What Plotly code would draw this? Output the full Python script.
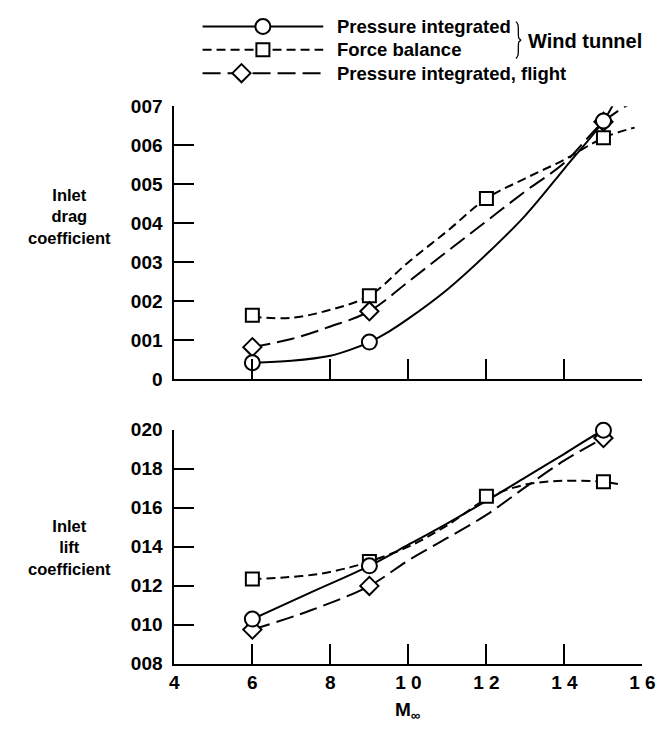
import plotly.graph_objects as go

W, H = 672, 734

# Free-stream Mach number of the test points
mach = [0.6, 0.9, 1.5]
mach_fb = [0.6, 0.9, 1.2, 1.5]

# Inlet drag coefficient at the test points
cd_press_wt = [0.00042, 0.00095, 0.00662]
cd_force_wt = [0.00164, 0.00214, 0.00463, 0.00619]
cd_press_fl = [0.00082, 0.00174, 0.00660]

# Inlet lift coefficient at the test points
cl_press_wt = [0.01029, 0.01302, 0.01997]
cl_force_wt = [0.01234, 0.01324, 0.01658, 0.01733]
cl_press_fl = [0.00975, 0.01199, 0.01957]

# Faired curves through the test points (drag)
fair_cd_press_wt_m = [0.6, 0.7, 0.8, 0.85, 0.9, 0.95, 1.0, 1.1, 1.2, 1.3, 1.4, 1.5, 1.53]
fair_cd_press_wt = [0.00042, 0.00047, 0.00060, 0.00075, 0.00095, 0.00122, 0.00155, 0.0023,
                    0.0032, 0.0042, 0.0054, 0.00662, 0.00714]
fair_cd_force_wt_m = [0.6, 0.7, 0.8, 0.9, 1.0, 1.1, 1.2, 1.3, 1.4, 1.5, 1.58]
fair_cd_force_wt = [0.00160, 0.00157, 0.00178, 0.00214, 0.0030, 0.0038, 0.00463,
                    0.00515, 0.00563, 0.00619, 0.00645]
fair_cd_press_fl_m = [0.6, 0.7, 0.8, 0.9, 1.0, 1.1, 1.2, 1.3, 1.4, 1.5, 1.58]
fair_cd_press_fl = [0.00082, 0.00103, 0.00135, 0.00174, 0.0025, 0.00328, 0.00405,
                    0.00482, 0.00555, 0.0066, 0.00714]

# Faired curves through the test points (lift)
fair_cl_press_wt_m = [0.6, 0.75, 0.9, 1.0, 1.1, 1.2, 1.3, 1.4, 1.5, 1.553]
fair_cl_press_wt = [0.01029, 0.01166, 0.01302, 0.0141, 0.0152, 0.01635, 0.01755,
                    0.01876, 0.01997, 0.02037]
fair_cl_force_wt_m = [0.6, 0.68, 0.77, 0.85, 0.9, 1.0, 1.1, 1.2, 1.27, 1.33, 1.4, 1.5, 1.545]
fair_cl_force_wt = [0.01234, 0.01242, 0.0126, 0.01294, 0.01324, 0.0140, 0.0151,
                    0.01645, 0.01703, 0.01728, 0.01738, 0.01733, 0.01718]
fair_cl_press_fl_m = [0.6, 0.75, 0.9, 1.0, 1.1, 1.2, 1.3, 1.4, 1.5]
fair_cl_press_fl = [0.00975, 0.01074, 0.01199, 0.0133, 0.01445, 0.01563, 0.01705,
                    0.01842, 0.01957]

# Axis ticks
x_ticks = [0.4, 0.6, 0.8, 1.0, 1.2, 1.4, 1.6]
x_ticktext = ["4", "6", "8", "1 0", "1 2", "1 4", "1 6"]
cd_ticks = [0.0, 0.001, 0.002, 0.003, 0.004, 0.005, 0.006, 0.007]
cd_ticktext = ["0", "001", "002", "003", "004", "005", "006", "007"]
cl_ticks = [0.008, 0.010, 0.012, 0.014, 0.016, 0.018, 0.020]
cl_ticktext = ["008", "010", "012", "014", "016", "018", "020"]

series_names = ["Pressure integrated", "Force balance", "Pressure integrated, flight"]

FONT = "Liberation Sans"
BLACK = "black"
LW = 2
SOLID = "solid"
SHORT = "9px,5px"
LONG = "18px,7px"

sym = {"circle": dict(symbol="circle", size=15),
       "square": dict(symbol="square", size=13),
       "diamond": dict(symbol="diamond", size=14)}


def curve(x, y, dash, xa, ya):
    return go.Scatter(x=x, y=y, mode="lines", xaxis=xa, yaxis=ya,
                      line=dict(color=BLACK, width=LW, dash=dash, shape="spline", smoothing=1.0),
                      hoverinfo="skip", showlegend=False)


def points(x, y, kind, xa, ya, name):
    return go.Scatter(x=x, y=y, mode="markers", xaxis=xa, yaxis=ya, name=name,
                      marker=dict(color="white", line=dict(color=BLACK, width=LW), **sym[kind]),
                      showlegend=False, cliponaxis=False)


fig = go.Figure()

# Drag panel (upper)
fig.add_trace(curve(fair_cd_force_wt_m, fair_cd_force_wt, SHORT, "x2", "y2"))
fig.add_trace(curve(fair_cd_press_fl_m, fair_cd_press_fl, LONG, "x2", "y2"))
fig.add_trace(curve(fair_cd_press_wt_m, fair_cd_press_wt, SOLID, "x2", "y2"))
fig.add_trace(points(mach_fb, cd_force_wt, "square", "x2", "y2", series_names[1]))
fig.add_trace(points(mach, cd_press_fl, "diamond", "x2", "y2", series_names[2]))
fig.add_trace(points(mach, cd_press_wt, "circle", "x2", "y2", series_names[0]))

# Lift panel (lower)
fig.add_trace(curve(fair_cl_force_wt_m, fair_cl_force_wt, SHORT, "x", "y"))
fig.add_trace(curve(fair_cl_press_fl_m, fair_cl_press_fl, LONG, "x", "y"))
fig.add_trace(curve(fair_cl_press_wt_m, fair_cl_press_wt, SOLID, "x", "y"))
fig.add_trace(points(mach_fb, cl_force_wt, "square", "x", "y", series_names[1]))
fig.add_trace(points(mach, cl_press_fl, "diamond", "x", "y", series_names[2]))
fig.add_trace(points(mach, cl_press_wt, "circle", "x", "y", series_names[0]))

# Key at the top, drawn on a pixel-space overlay
key_font = dict(family=FONT, size=18.5, weight="bold", color=BLACK)
key_rows = [(17, SOLID, "circle", 265), (41, SHORT, "square", 265), (65, LONG, "diamond", 243)]
for (ky, dash, kind, mx), label in zip(key_rows, series_names):
    fig.add_trace(go.Scatter(x=[203, 327], y=[ky, ky], mode="lines", xaxis="x3", yaxis="y3",
                             line=dict(color=BLACK, width=LW, dash=dash),
                             hoverinfo="skip", showlegend=False))
    fig.add_trace(go.Scatter(x=[mx], y=[ky], mode="markers", xaxis="x3", yaxis="y3",
                             marker=dict(color="white", line=dict(color=BLACK, width=LW), **sym[kind]),
                             hoverinfo="skip", showlegend=False))
    fig.add_annotation(x=339, y=ky, xref="x3", yref="y3", text=label, showarrow=False,
                       xanchor="left", yanchor="middle", font=key_font)

# Brace grouping the two wind-tunnel rows
fig.add_trace(go.Scatter(x=[525, 527, 528, 530, 528, 527, 525], y=[12, 15, 29, 31, 33, 47, 50],
                         mode="lines", xaxis="x3", yaxis="y3",
                         line=dict(color=BLACK, width=1.3, shape="spline"),
                         hoverinfo="skip", showlegend=False))
fig.add_annotation(x=535, y=32, xref="x3", yref="y3", text="Wind tunnel", showarrow=False,
                   xanchor="left", yanchor="middle",
                   font=dict(family=FONT, size=20, weight="bold", color=BLACK))

# Y-axis titles
title_font = dict(family=FONT, size=16.5, weight="bold", color=BLACK)
fig.add_annotation(x=66, y=213, xref="x3", yref="y3", text="Inlet<br>drag<br>coefficient",
                   showarrow=False, xanchor="center", yanchor="middle", align="center",
                   font=title_font)
fig.add_annotation(x=66, y=553, xref="x3", yref="y3", text="Inlet<br>lift<br>coefficient",
                   showarrow=False, xanchor="center", yanchor="middle", align="center",
                   font=title_font)

fig.add_annotation(x=414, y=722, xref="x3", yref="y3", text="M<sub>∞</sub>", showarrow=False,
                   xanchor="center", yanchor="middle",
                   font=dict(family=FONT, size=19, weight="bold", color=BLACK))

xdom = [174 / W, 655 / W]
dom_top = [1 - 380 / H, 1 - 99 / H]
dom_bot = [1 - 673 / H, 1 - 432 / H]
tickfont = dict(family=FONT, size=19, weight="bold", color=BLACK)
common = dict(showline=True, linewidth=LW, linecolor=BLACK, showgrid=False, zeroline=False,
              ticks="inside", ticklen=20, tickwidth=LW, tickcolor=BLACK, tickfont=tickfont,
              fixedrange=True, tickmode="array")

fig.update_layout(
    width=W, height=H,
    margin=dict(l=0, r=0, t=0, b=0),
    paper_bgcolor="white", plot_bgcolor="rgba(0,0,0,0)",
    showlegend=False,
    xaxis=dict(domain=xdom, anchor="y", range=[0.4, 1.6], tickvals=x_ticks,
               ticktext=x_ticktext, **common),
    yaxis=dict(domain=dom_bot, anchor="x", range=[0.008, 0.020], tickvals=cl_ticks,
               ticktext=cl_ticktext, ticklabelstandoff=6, **common),
    xaxis2=dict(domain=xdom, anchor="y2", range=[0.4, 1.6], tickvals=x_ticks,
                showticklabels=False, **common),
    yaxis2=dict(domain=dom_top, anchor="x2", range=[0.0, 0.007], tickvals=cd_ticks,
                ticktext=cd_ticktext, ticklabelstandoff=6, **common),
    xaxis3=dict(domain=[0, 1], anchor="y3", range=[0, W], visible=False, fixedrange=True),
    yaxis3=dict(domain=[0, 1], anchor="x3", range=[H, 0], visible=False, fixedrange=True),
)

fig.write_html("out.html")
